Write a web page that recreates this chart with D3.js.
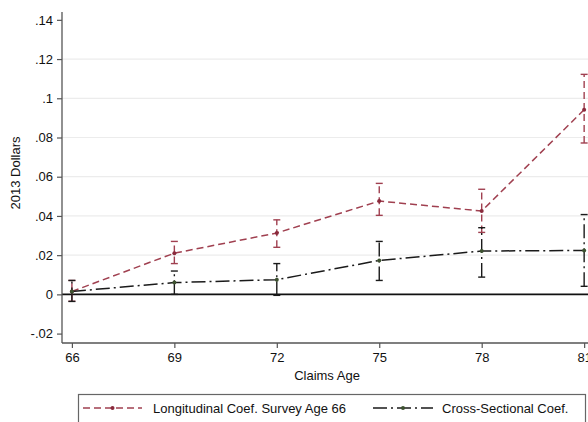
<!DOCTYPE html>
<html>
<head>
<meta charset="utf-8">
<script src="https://cdn.jsdelivr.net/npm/d3@7"></script>
<style>
  body { margin: 0; background: #fff; }
  svg { display: block; font-family: "Liberation Sans", Arial, sans-serif; }
</style>
</head>
<body>
<div id="chart"></div>
<script>
var ages = [66, 69, 72, 75, 78, 81];
var yTicks = [-0.02, 0, 0.02, 0.04, 0.06, 0.08, 0.1, 0.12, 0.14];
var yTickLabels = ['-.02', '0', '.02', '.04', '.06', '.08', '.1', '.12', '.14'];

// longitudinal coef., survey age 66
var longCoef = [0.0015, 0.021, 0.0313, 0.0476, 0.0425, 0.0942];
var longLo   = [-0.0035, 0.0157, 0.024, 0.0403, 0.0316, 0.0772];
var longHi   = [0.0071, 0.027, 0.038, 0.0566, 0.0536, 0.1122];

// cross-sectional coef.
var crossCoef = [0.0015, 0.006, 0.0075, 0.0173, 0.0221, 0.0224];
var crossLo   = [-0.0036, 0.0, -0.0005, 0.0071, 0.0088, 0.0041];
var crossHi   = [0.0071, 0.0119, 0.0157, 0.027, 0.034, 0.0407];

var legendLabels = ['Longitudinal Coef. Survey Age 66', 'Cross-Sectional Coef.'];

var width = 588, height = 422;
var plotL = 62, plotR = 592, plotT = 12, plotB = 343;

var x = d3.scaleLinear().domain([65.71, 81.23]).range([plotL, plotR]);
var y = d3.scaleLinear().domain([-0.0248, 0.144]).range([plotB, plotT]);

var svg = d3.select('#chart').append('svg')
    .attr('width', width)
    .attr('height', height);

// grid
svg.append('g')
  .selectAll('line')
  .data(yTicks.filter(d => d > 0.001 && d < 0.13))
  .enter().append('line')
    .attr('x1', plotL).attr('x2', plotR)
    .attr('y1', d => y(d)).attr('y2', d => y(d))
    .attr('stroke', '#ececec')
    .attr('stroke-width', 1.2);

// zero line
svg.append('line')
    .attr('x1', plotL).attr('x2', plotR)
    .attr('y1', y(0)).attr('y2', y(0))
    .attr('stroke', '#111')
    .attr('stroke-width', 1.6);

// axes
var yAxis = svg.append('g')
    .attr('transform', 'translate(' + plotL + ',0)')
    .call(d3.axisLeft(y).tickValues(yTicks).tickSize(5).tickPadding(4)
      .tickFormat((d, i) => yTickLabels[i]));
var xAxis = svg.append('g')
    .attr('transform', 'translate(0,' + plotB + ')')
    .call(d3.axisBottom(x).tickValues(ages).tickSize(5).tickPadding(5));

[yAxis, xAxis].forEach(function(a) {
  a.select('.domain').attr('stroke', '#555').attr('stroke-width', 1.3);
  a.selectAll('.tick line').attr('stroke', '#555').attr('stroke-width', 1.2);
  a.selectAll('.tick text').attr('fill', '#111').style('font-size', '13px');
});
yAxis.select('.domain').attr('d', 'M0,' + plotT + 'V' + plotB);
xAxis.select('.domain').attr('d', 'M' + plotL + ',0H' + plotR);

svg.append('text')
    .attr('transform', 'translate(17,173) rotate(-90)')
    .attr('text-anchor', 'middle')
    .attr('dominant-baseline', 'middle')
    .style('font-size', '13px')
    .attr('fill', '#111')
    .text('2013 Dollars');

svg.append('text')
    .attr('x', (plotL + plotR) / 2)
    .attr('y', 380)
    .attr('text-anchor', 'middle')
    .style('font-size', '13px')
    .attr('fill', '#111')
    .text('Claims Age');

var series = [
  { coef: longCoef, lo: longLo, hi: longHi, color: '#a04050', marker: '#8a2a3c', dash: '7,4' },
  { coef: crossCoef, lo: crossLo, hi: crossHi, color: '#1a1a1a', marker: '#3d5230', dash: '14,4,2,4' }
];

var line = d3.line()
    .x(d => x(d.age))
    .y(d => y(d.v));

series.forEach(function(s) {
  var pts = ages.map((a, i) => ({ age: a, v: s.coef[i], lo: s.lo[i], hi: s.hi[i] }));
  var g = svg.append('g');

  g.selectAll('line.ci')
    .data(pts).enter().append('line')
      .attr('class', 'ci')
      .attr('x1', d => x(d.age)).attr('x2', d => x(d.age))
      .attr('y1', d => y(d.lo)).attr('y2', d => y(d.hi))
      .attr('stroke', s.color)
      .attr('stroke-width', 1.4)
      .attr('stroke-dasharray', s.dash);

  g.selectAll('line.cap')
    .data(pts.flatMap(d => [{ age: d.age, v: d.lo }, { age: d.age, v: d.hi }]))
    .enter().append('line')
      .attr('class', 'cap')
      .attr('x1', d => x(d.age) - 3.5).attr('x2', d => x(d.age) + 3.5)
      .attr('y1', d => y(d.v)).attr('y2', d => y(d.v))
      .attr('stroke', s.color)
      .attr('stroke-width', 1.4);

  g.append('path')
      .datum(pts)
      .attr('d', line)
      .attr('fill', 'none')
      .attr('stroke', s.color)
      .attr('stroke-width', 1.5)
      .attr('stroke-dasharray', s.dash);

  g.selectAll('circle')
    .data(pts).enter().append('circle')
      .attr('cx', d => x(d.age)).attr('cy', d => y(d.v))
      .attr('r', 2)
      .attr('fill', s.marker);
});

// legend
var legend = svg.append('g');
legend.append('rect')
    .attr('x', 78.5).attr('y', 394.5)
    .attr('width', 507).attr('height', 40)
    .attr('fill', '#fff')
    .attr('stroke', '#666')
    .attr('stroke-width', 1.2);

var legendX = [[83, 142, 153], [373, 433, 442]];
series.forEach(function(s, i) {
  var lx = legendX[i];
  legend.append('line')
      .attr('x1', lx[0]).attr('x2', lx[1])
      .attr('y1', 408).attr('y2', 408)
      .attr('stroke', s.color)
      .attr('stroke-width', 1.4)
      .attr('stroke-dasharray', s.dash);
  legend.append('circle')
      .attr('cx', (lx[0] + lx[1]) / 2).attr('cy', 408)
      .attr('r', 2)
      .attr('fill', s.marker);
  legend.append('text')
      .attr('x', lx[2]).attr('y', 412.5)
      .style('font-size', '13px')
      .attr('fill', '#111')
      .text(legendLabels[i]);
});
</script>
</body>
</html>
